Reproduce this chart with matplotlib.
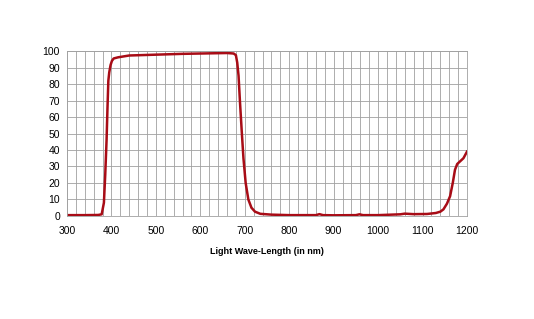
import matplotlib
matplotlib.use("Agg")
import matplotlib.pyplot as plt
from matplotlib.ticker import MultipleLocator

# 透过率曲线
wavelength = [300, 340, 370, 378, 383, 386, 389, 391, 393, 395, 398, 401, 405, 415, 440,
              500, 560, 620, 660, 675, 680, 683, 686, 689, 693, 697, 702, 708, 715,
              723, 735, 760, 800, 860, 868, 876, 900, 950, 958, 966, 1000, 1050, 1060,
              1080, 1110, 1130, 1140, 1147, 1155, 1162, 1168, 1173, 1178, 1184, 1192, 1200]
transmit = [0.5, 0.5, 0.6, 1.0, 8, 25, 46, 65, 82, 87, 91.5, 94, 95.5, 96.2, 97.3,
            97.8, 98.3, 98.6, 98.8, 98.5, 97.5, 93, 85, 70, 52, 35, 20, 10, 5,
            2.6, 1.3, 0.8, 0.5, 0.5, 1.1, 0.5, 0.4, 0.5, 1.0, 0.5, 0.5, 1.0, 1.4,
            1.1, 1.2, 1.8, 2.6, 4, 7.5, 12, 20, 28, 31.5, 33, 35, 39]

xticks = [300, 400, 500, 600, 700, 800, 900, 1000, 1100, 1200]
yticks = [0, 10, 20, 30, 40, 50, 60, 70, 80, 90, 100]

plt.rcParams['font.family'] = ['Liberation Sans', 'DejaVu Sans']

fig = plt.figure(figsize=(5.34, 3.19), dpi=100)
ax = fig.add_axes([0.1255, 0.323, 0.749, 0.517])

ax.plot(wavelength, transmit, color='#a80c16', linewidth=1.8, solid_joinstyle='round')

ax.set_xlim(300, 1200)
ax.set_ylim(0, 100)
ax.set_xticks(xticks)
ax.set_yticks(yticks)
ax.xaxis.set_minor_locator(MultipleLocator(20))
ax.grid(True, which='both', color='#a0a0a0', linewidth=0.6)
ax.set_axisbelow(True)
ax.tick_params(axis='x', which='both', length=0, labelsize=7.5, pad=7)
ax.tick_params(axis='y', which='both', length=0, labelsize=7.5, pad=5)
for s in ax.spines.values():
    s.set_color('#a0a0a0')
    s.set_linewidth(0.6)

ax.set_xlabel('Light Wave-Length (in nm)', fontsize=6.5, fontweight='bold', labelpad=8)

fig.savefig('out.png', dpi=100)
